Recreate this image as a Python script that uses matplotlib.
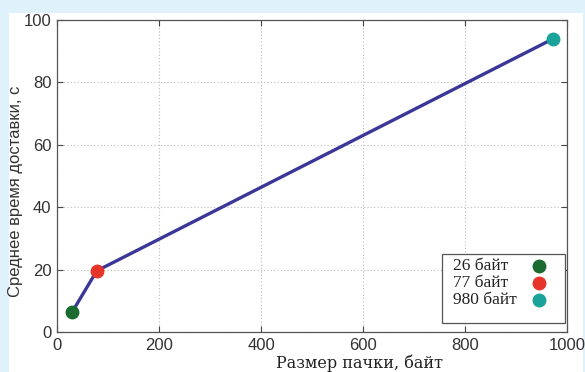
import matplotlib
matplotlib.use('Agg')
import matplotlib.pyplot as plt
from matplotlib.patches import Rectangle

# packet size (bytes) vs mean delivery time (s)
sizes = [30, 78, 973]
delays = [6.5, 19.6, 94.0]
labels = ['26 байт', '77 байт', '980 байт']
colors = ['#1b6b30', '#e5352b', '#1aa39a']
xticks = [0, 200, 400, 600, 800, 1000]
yticks = [0, 20, 40, 60, 80, 100]

fig = plt.figure(figsize=(5.85, 3.72), dpi=100)
fig.patch.set_facecolor('#dff2fb')
fig.patches.append(Rectangle((9 / 585, 0), 574 / 585, 359 / 372,
                             transform=fig.transFigure, facecolor='white',
                             edgecolor='none', zorder=-1))

ax = fig.add_axes([57 / 585, 40 / 372, 510 / 585, 312 / 372])
ax.plot(sizes, delays, color='#3b3799', lw=2.4, zorder=3)
for x, y, c in zip(sizes, delays, colors):
    ax.plot(x, y, 'o', color=c, ms=9, zorder=4)

ax.set_xlim(0, 1000)
ax.set_ylim(0, 100)
ax.set_xticks(xticks)
ax.set_yticks(yticks)
ax.tick_params(direction='in', length=4, labelsize=12, color='#444444', pad=4,
               top=True, right=True)
for lab in ax.get_xticklabels() + ax.get_yticklabels():
    lab.set_family('Liberation Sans')
    lab.set_color('#333333')
ax.grid(True, linestyle=(0, (1, 2)), color='#bbbbbb', lw=0.8)
for s in ax.spines.values():
    s.set_color('#555555')
    s.set_linewidth(0.9)

ax.set_xlabel('Размер пачки, байт', family='DejaVu Serif', fontsize=11.5,
              color='#222222')
ax.xaxis.set_label_coords(0.594, -0.072)
ax.set_ylabel('Среднее время доставки, с', family='Liberation Sans', fontsize=12,
              color='#333333')
ax.yaxis.set_label_coords(-0.066, 0.45)

# legend drawn by hand: text left-aligned, markers in a column on the right
ax.add_patch(Rectangle((0.755, 0.029), 0.241, 0.221, transform=ax.transAxes,
                       facecolor='white', edgecolor='#555555', lw=0.9, zorder=5))
for i, (lab, c) in enumerate(zip(labels, colors)):
    yy = 0.212 - i * 0.054
    ax.text(0.776, yy, lab, transform=ax.transAxes, va='center', ha='left',
            family='Liberation Serif', fontsize=12.5, color='#222222', zorder=6)
    ax.plot(0.945, yy, 'o', color=c, ms=9, transform=ax.transAxes,
            clip_on=False, zorder=6)

plt.savefig('out.png', dpi=100, facecolor=fig.get_facecolor())
